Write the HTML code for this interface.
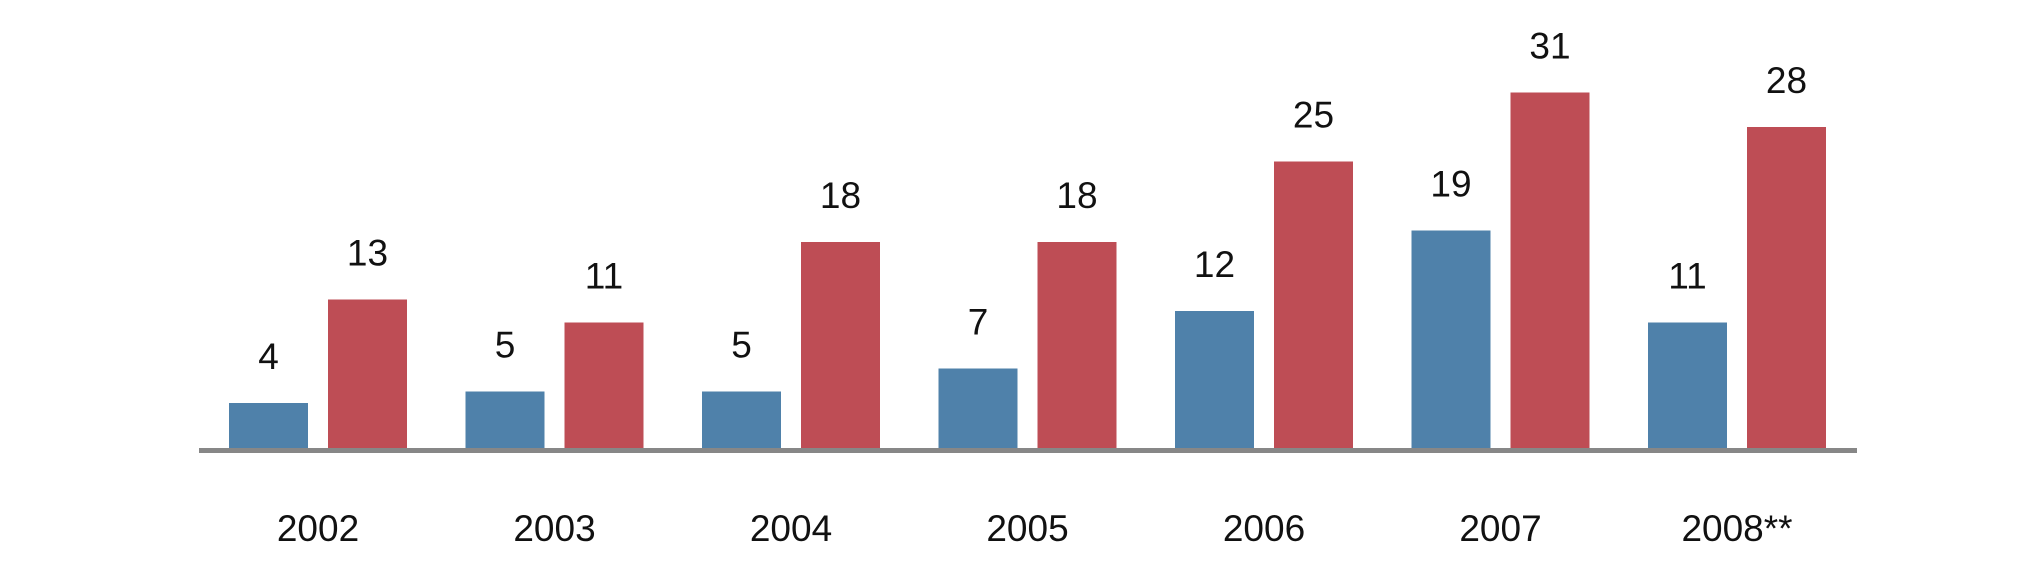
<!DOCTYPE html>
<html><head><meta charset="utf-8"><style>
html,body{margin:0;padding:0;background:#fff;width:2021px;height:561px;overflow:hidden}
svg text{font-family:"Liberation Sans",sans-serif;font-size:37px;fill:#111}
</style></head><body>
<svg id="chart" width="2021" height="561" xmlns="http://www.w3.org/2000/svg"></svg>
<script>
const categories = ["2002","2003","2004","2005","2006","2007","2008**"];
const seriesBlue = [4,5,5,7,12,19,11];
const seriesRed = [13,11,18,18,25,31,28];

const svg = document.getElementById('chart');
const NS = 'http://www.w3.org/2000/svg';
const baseY = 449, unit = 11.5, x0 = 318, step = 236.5, barW = 79, gap = 20;
function xCenter(i){ return x0 + i*step; }
function yScale(v){ return baseY - v*unit; }

function addBar(i, v, isBlue){
  const cx = xCenter(i);
  const x = isBlue ? cx - gap/2 - barW : cx + gap/2;
  const r = document.createElementNS(NS,'rect');
  r.setAttribute('x', x); r.setAttribute('y', yScale(v));
  r.setAttribute('width', barW); r.setAttribute('height', baseY - yScale(v));
  r.setAttribute('fill', isBlue ? '#4f81aa' : '#be4d55');
  
  
  svg.appendChild(r);
  const t = document.createElementNS(NS,'text');
  t.setAttribute('x', x + barW/2); t.setAttribute('y', yScale(v) - 34);
  t.setAttribute('text-anchor','middle');
  t.textContent = v;
  
  
  svg.appendChild(t);
}
categories.forEach((c,i)=>{
  addBar(i, seriesBlue[i], true);
  addBar(i, seriesRed[i], false);
  const t = document.createElementNS(NS,'text');
  t.setAttribute('x', xCenter(i)); t.setAttribute('y', 541);
  t.setAttribute('text-anchor','middle');
  t.textContent = c;
  
  
  svg.appendChild(t);
});
const axis = document.createElementNS(NS,'rect');
axis.setAttribute('x', 199); axis.setAttribute('y', 448);
axis.setAttribute('width', 1658); axis.setAttribute('height', 5);
axis.setAttribute('fill', '#878787');


svg.appendChild(axis);
</script>
</body></html>
